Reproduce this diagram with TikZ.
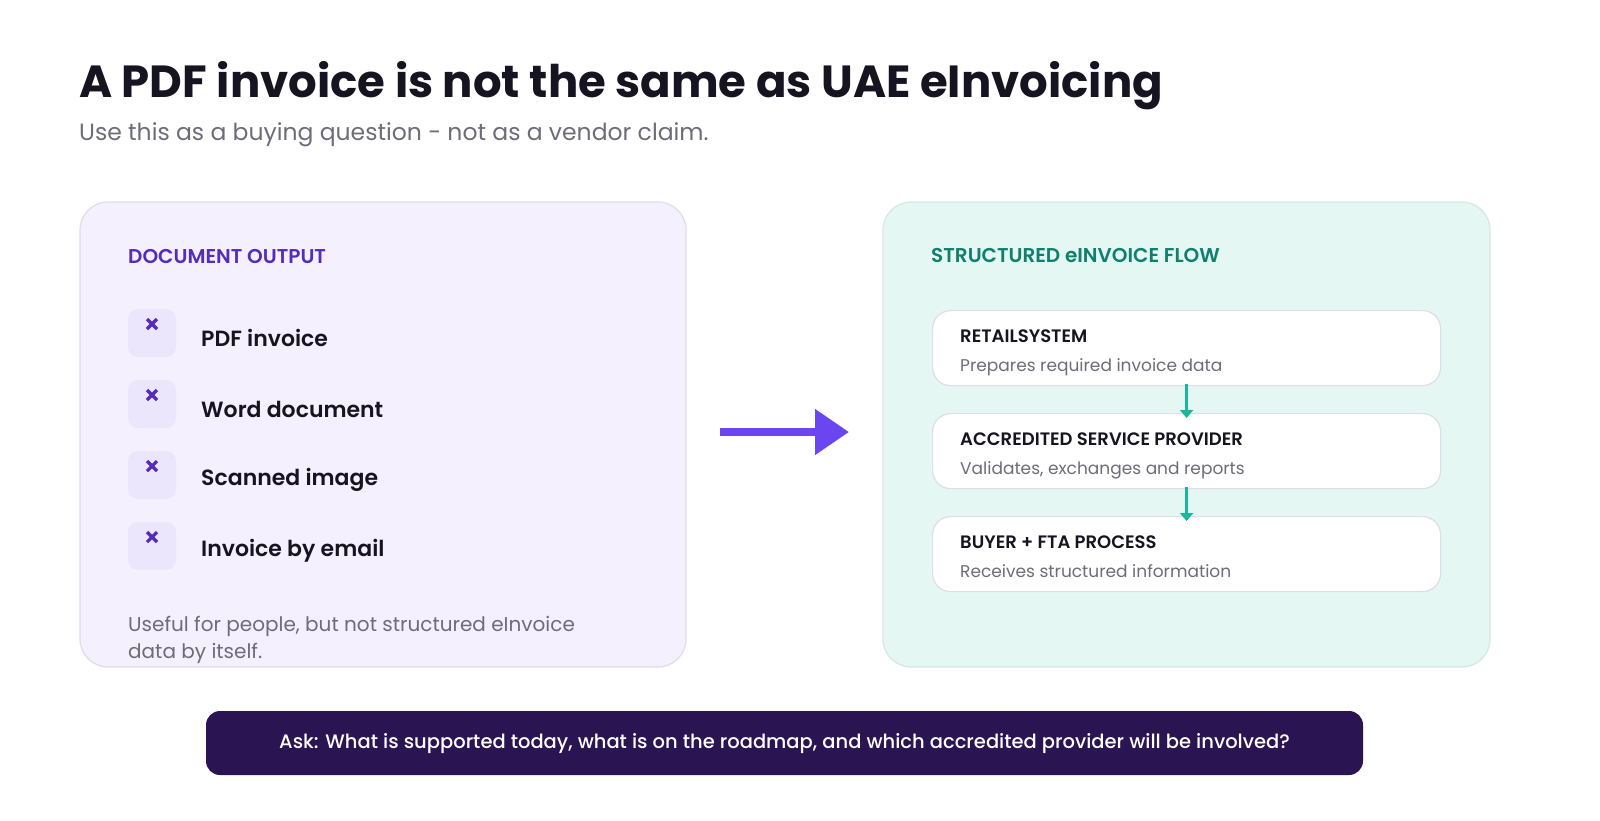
\documentclass[tikz,border=0pt]{standalone}
\usepackage{fontspec}
\setmainfont{Poppins}
\newfontfamily\medfont{Poppins Medium}
\newfontfamily\semifont{Poppins SemiBold}
\usetikzlibrary{arrows.meta}
\definecolor{inkColor}{RGB}{22,20,32}
\definecolor{grayText}{RGB}{110,108,120}
\definecolor{purpleFill}{RGB}{244,240,253}
\definecolor{purpleLine}{RGB}{224,220,236}
\definecolor{purpleHead}{RGB}{84,44,190}
\definecolor{iconFill}{RGB}{236,230,252}
\definecolor{arrowPurple}{RGB}{107,70,240}
\definecolor{tealFill}{RGB}{229,247,242}
\definecolor{tealLine}{RGB}{214,232,228}
\definecolor{tealHead}{RGB}{15,128,110}
\definecolor{tealArrow}{RGB}{26,184,150}
\definecolor{barFill}{RGB}{42,20,82}
\tikzset{
  panel/.style={rounded corners=28pt,line width=1.2pt},
  step box/.style={draw=purpleLine,fill=white,rounded corners=18pt,line width=1.2pt,
    minimum width=508pt,minimum height=75pt,anchor=north west},
  item/.style={anchor=west,text=inkColor,font=\fontsize{22}{27}\semifont},
  step title/.style={anchor=base west,text=inkColor,font=\fontsize{18}{22}\semifont},
  step text/.style={anchor=base west,text=grayText,font=\fontsize{17}{21}\selectfont},
  flow arrow/.style={draw=tealArrow,line width=3pt,-{Triangle[length=8pt,width=13pt]}},
  cross/.style={draw=purpleHead,line width=3.2pt},
  note/.style={anchor=base west,inner sep=0pt,text=grayText,font=\fontsize{20}{24}\selectfont}
}
\begin{document}
\begin{tikzpicture}[x=1pt,y=-1pt]
\path[use as bounding box,fill=white] (0,0) rectangle (1600,820);

% title
\node[anchor=base west,inner sep=0pt,text=inkColor,font=\fontsize{45}{52}\bfseries] (title) at (79,97) {A PDF invoice is not the same as UAE eInvoicing};
\node[anchor=base west,inner sep=0pt,text=grayText,font=\fontsize{23.5}{28}\selectfont] (subtitle) at (79,140) {Use this as a buying question - not as a vendor claim.};

% left panel
\path[panel,draw=purpleLine,fill=purpleFill] (80,202) rectangle (686,667);
\node[anchor=west,inner sep=0pt,text=purpleHead,font=\fontsize{20}{25}\semifont] (docHead) at (128,256) {DOCUMENT OUTPUT};
\foreach \txt [count=\i from 0] in {PDF invoice,Word document,Scanned image,Invoice by email}{
  \path[fill=iconFill,rounded corners=10pt] (128,309+71*\i) rectangle (176,357+71*\i);
  \coordinate (x\i) at (152,324+71*\i);
  \draw[cross] ([shift={(-5,-5)}]x\i) -- ([shift={(5,5)}]x\i);
  \draw[cross] ([shift={(-5,5)}]x\i) -- ([shift={(5,-5)}]x\i);
  \node[item,inner sep=0pt] (item\i) at (201,338+71*\i) {\txt};
}
\node[note] (note1) at (128,631) {Useful for people, but not structured eInvoice};
\node[note] (note2) at (128,658) {data by itself.};

% middle arrow
\coordinate (arrowStart) at (720,432);
\coordinate (arrowEnd) at (849,432);
\draw[arrowPurple,line width=8pt,-{Triangle[length=34pt,width=44pt]}] (arrowStart) -- (arrowEnd);

% right panel
\path[panel,draw=tealLine,fill=tealFill] (883,202) rectangle (1490,667);
\node[anchor=west,inner sep=0pt,text=tealHead,font=\fontsize{20}{25}\semifont] (flowHead) at (931,256) {STRUCTURED eINVOICE FLOW};
\node[step box] (retail) at (932,310) {};
\node[step box] (asp) at (932,413) {};
\node[step box] (buyer) at (932,516) {};
\node[step title,inner sep=0pt] at (960,342) {RETAILSYSTEM};
\node[step text,inner sep=0pt] at (960,371) {Prepares required invoice data};
\node[step title,inner sep=0pt] at (960,445) {ACCREDITED SERVICE PROVIDER};
\node[step text,inner sep=0pt] at (960,474) {Validates, exchanges and reports};
\node[step title,inner sep=0pt] at (960,548) {BUYER + FTA PROCESS};
\node[step text,inner sep=0pt] at (960,577) {Receives structured information};
\draw[flow arrow] ([yshift=2pt]retail.south) -- ([yshift=-5pt]asp.north);
\draw[flow arrow] ([yshift=2pt]asp.south) -- ([yshift=-5pt]buyer.north);

% bottom bar
\path[fill=barFill,rounded corners=14pt] (206,711) rectangle (1363,775);
\node[text=white,font=\fontsize{19.5}{24}\medfont] (ask) at (784.5,744) {Ask: What is supported today, what is on the roadmap, and which accredited provider will be involved?};
\end{tikzpicture}
\end{document}
